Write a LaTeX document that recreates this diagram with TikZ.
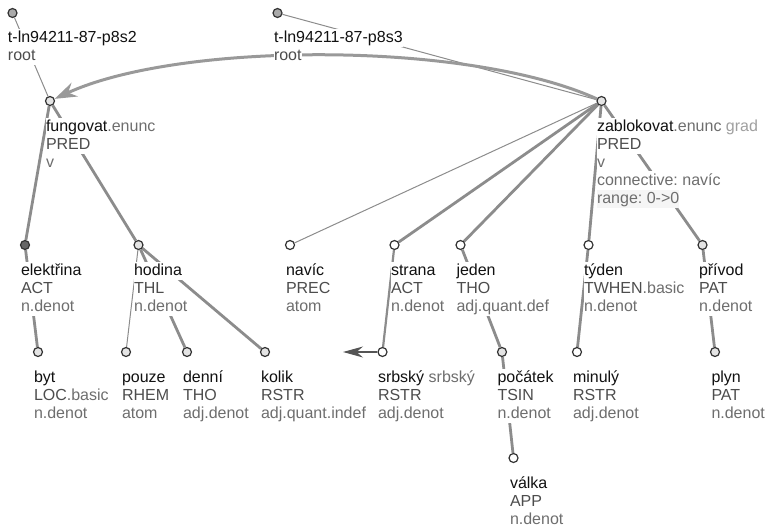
\documentclass[tikz,border=0pt]{standalone}
\usepackage{fontspec}
\setmainfont{Liberation Sans}
\usetikzlibrary{arrows.meta}
\frenchspacing

\definecolor{lemc}{HTML}{111111}
\definecolor{func}{HTML}{4D4D4D}
\definecolor{othc}{HTML}{6E6E6E}
\definecolor{gradc}{HTML}{A0A0A0}
\definecolor{edgec}{HTML}{8C8C8C}
\definecolor{ringc}{HTML}{333333}
\definecolor{rootfill}{HTML}{AAAAAA}
\definecolor{darkfill}{HTML}{666666}
\definecolor{lightfill}{HTML}{E4E4E4}
\definecolor{rangebg}{HTML}{F5F5F5}
\definecolor{coordc}{HTML}{999999}
\definecolor{pointc}{HTML}{555555}

% one text line with its own white backing, 18pt tall
\newcommand{\trow}[2][white]{\hbox{\fboxsep=0pt\colorbox{#1}{\rule[-4.5pt]{0pt}{18pt}#2}}}
% stack of lines, baseline = first line
\newcommand{\tstack}[1]{\vtop{\baselineskip=18pt\lineskip=0pt\lineskiplimit=-100pt #1}}
\newcommand{\lem}[1]{\textcolor{lemc}{#1}}
\newcommand{\fun}[1]{\textcolor{func}{#1}}
\newcommand{\oth}[1]{\textcolor{othc}{#1}}
\newcommand{\grd}[1]{\textcolor{gradc}{#1}}

\pgfdeclarelayer{edges}
\pgfsetlayers{edges,main}

\tikzset{
  circ/.style={circle, draw=ringc, line width=1.2pt, minimum size=9pt, inner sep=0pt, fill=white},
  txt/.style={anchor=base west, inner sep=0pt, outer sep=0pt, font=\fontsize{16}{18}\selectfont},
  edge/.style={draw=edgec, line width=2.8pt},
  thinedge/.style={draw=edgec, line width=1pt},
  coordarrow/.style={draw=coordc, line width=3pt, -{Stealth[length=22pt,width=15pt]}},
  pointarrow/.style={draw=pointc, line width=1.2pt, -{Stealth[length=20pt,width=11pt]}},
}

\begin{document}
\begin{tikzpicture}[x=1pt,y=-1pt]
\useasboundingbox (0,0) rectangle (768,527);

% tree nodes (circles)
\node[circ, fill=rootfill] (root2) at (12.5,13) {};
\node[circ, fill=rootfill] (root3) at (277.5,13) {};
\node[circ, fill=lightfill] (fung) at (50,101) {};
\node[circ, fill=lightfill] (zab) at (601.5,101) {};
\node[circ, fill=darkfill] (elek) at (25,245) {};
\node[circ, fill=lightfill] (hod) at (138.5,245) {};
\node[circ] (navic) at (290,245) {};
\node[circ] (strana) at (394.5,245) {};
\node[circ] (jeden) at (460.5,245) {};
\node[circ] (tyden) at (588.5,245) {};
\node[circ, fill=lightfill] (privod) at (702.5,245) {};
\node[circ, fill=lightfill] (byt) at (38,352) {};
\node[circ, fill=lightfill] (pouze) at (126,352) {};
\node[circ, fill=lightfill] (denni) at (187,352) {};
\node[circ, fill=lightfill] (kolik) at (265,352) {};
\node[circ] (srbsky) at (382.5,352) {};
\node[circ, fill=lightfill] (pocatek) at (502,352) {};
\node[circ] (minuly) at (577,352) {};
\node[circ, fill=lightfill] (plyn) at (715,352) {};
\node[circ] (valka) at (513.5,458) {};
\coordinate (srbtip) at (343,352);

% labels
\node[txt] (troot2) at (8,43) {\tstack{\trow{\lem{t-ln94211-87-p8s2}}\trow{\fun{root}}}};
\node[txt] (troot3) at (274,43) {\tstack{\trow{\lem{t-ln94211-87-p8s3}}\trow{\fun{root}}}};
\node[txt] (tfung) at (46,131) {\tstack{\trow{\lem{fungovat}\oth{.enunc}}\trow{\fun{PRED}}\trow{\oth{v}}}};
\node[txt] (tzab) at (597,131) {\tstack{\trow{\lem{zablokovat}\oth{.enunc} \grd{grad}}\trow{\fun{PRED}}\trow{\oth{v}}\trow{\oth{connective: navíc}}\trow[rangebg]{\oth{range: 0->0}}}};
\node[txt] (telek) at (21,275) {\tstack{\trow{\lem{elektřina}}\trow{\fun{ACT}}\trow{\oth{n.denot}}}};
\node[txt] (thod) at (134,275) {\tstack{\trow{\lem{hodina}}\trow{\fun{THL}}\trow{\oth{n.denot}}}};
\node[txt] (tnavic) at (286,275) {\tstack{\trow{\lem{navíc}}\trow{\fun{PREC}}\trow{\oth{atom}}}};
\node[txt] (tstrana) at (391,275) {\tstack{\trow{\lem{strana}}\trow{\fun{ACT}}\trow{\oth{n.denot}}}};
\node[txt] (tjeden) at (456.5,275) {\tstack{\trow{\lem{jeden}}\trow{\fun{THO}}\trow{\oth{adj.quant.def}}}};
\node[txt] (ttyden) at (584,275) {\tstack{\trow{\lem{týden}}\trow{\fun{TWHEN}\oth{.basic}}\trow{\oth{n.denot}}}};
\node[txt] (tprivod) at (699,275) {\tstack{\trow{\lem{přívod}}\trow{\fun{PAT}}\trow{\oth{n.denot}}}};
\node[txt] (tbyt) at (34,382) {\tstack{\trow{\lem{byt}}\trow{\fun{LOC}\oth{.basic}}\trow{\oth{n.denot}}}};
\node[txt] (tpouze) at (122,382) {\tstack{\trow{\lem{pouze}}\trow{\fun{RHEM}}\trow{\oth{atom}}}};
\node[txt] (tdenni) at (183,382) {\tstack{\trow{\lem{denní}}\trow{\fun{THO}}\trow{\oth{adj.denot}}}};
\node[txt] (tkolik) at (261,382) {\tstack{\trow{\lem{kolik}}\trow{\fun{RSTR}}\trow{\oth{adj.quant.indef}}}};
\node[txt] (tsrbsky) at (378,382) {\tstack{\trow{\lem{srbský} \oth{srbský}}\trow{\fun{RSTR}}\trow{\oth{adj.denot}}}};
\node[txt] (tpocatek) at (497.5,382) {\tstack{\trow{\lem{počátek}}\trow{\fun{TSIN}}\trow{\oth{n.denot}}}};
\node[txt] (tminuly) at (573,382) {\tstack{\trow{\lem{minulý}}\trow{\fun{RSTR}}\trow{\oth{adj.denot}}}};
\node[txt] (tplyn) at (711.5,382) {\tstack{\trow{\lem{plyn}}\trow{\fun{PAT}}\trow{\oth{n.denot}}}};
\node[txt] (tvalka) at (510,488) {\tstack{\trow{\lem{válka}}\trow{\fun{APP}}\trow{\oth{n.denot}}}};

% connectors, kept underneath the labels
\begin{pgfonlayer}{edges}
  \draw[thinedge] (root2) -- (fung);
  \draw[thinedge] (root3) -- (zab);
  \draw[edge] (fung) -- (elek);
  \draw[edge] (fung) -- (hod);
  \draw[edge] (elek) -- (byt);
  \draw[thinedge] (hod) -- (pouze);
  \draw[edge] (hod) -- (denni);
  \draw[edge] (hod) -- (kolik);
  \draw[thinedge] (zab) -- (navic);
  \draw[edge] (zab) -- (strana);
  \draw[edge] (zab) -- (jeden);
  \draw[edge] (zab) -- (tyden);
  \draw[edge] (zab) -- (privod);
  \draw[edge, line width=2.2pt] (strana) -- (srbsky);
  \draw[edge] (jeden) -- (pocatek);
  \draw[edge] (pocatek) -- (valka);
  \draw[edge] (tyden) -- (minuly);
  \draw[edge] (privod) -- (plyn);
  \draw[coordarrow] (zab) .. controls (470,41) and (180,41) .. (fung);
  \draw[pointarrow] (srbsky) -- (srbtip);
\end{pgfonlayer}
\end{tikzpicture}
\end{document}
